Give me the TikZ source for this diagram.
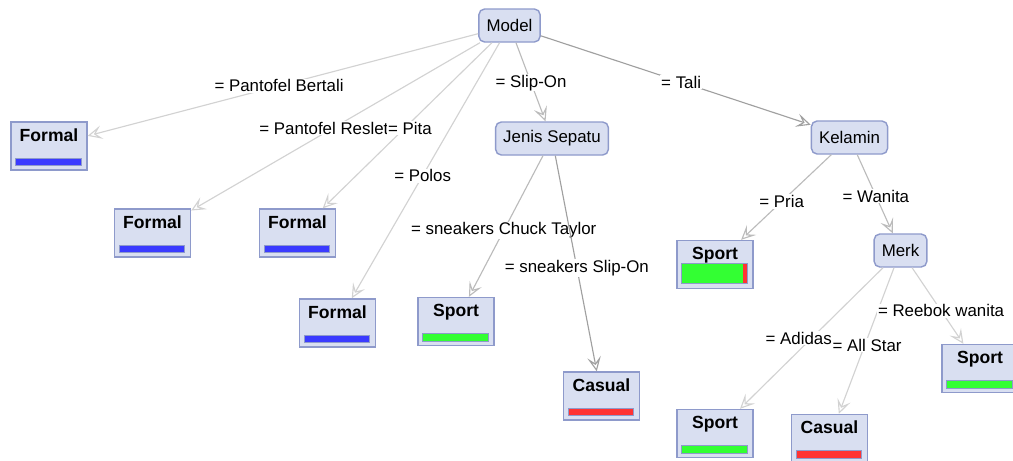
\documentclass[tikz,border=0pt]{standalone}
\usepackage{fontspec}
\setmainfont{Liberation Sans}
\usepackage{xcolor}
\usepackage{tikz}
\usetikzlibrary{
  arrows.meta,
  calc
}
\definecolor{wkFill}{HTML}{D9DFF1}
\definecolor{wkBorder}{HTML}{8E9ACB}
\definecolor{wkFormal}{HTML}{3A3AFF}
\definecolor{wkSport}{HTML}{33FF33}
\definecolor{wkCasual}{HTML}{FF3333}
\definecolor{wkEdgeLight}{HTML}{D2D2D2}
\definecolor{wkEdgeMid}{HTML}{BBBBBB}
\definecolor{wkEdgeDark}{HTML}{A0A0A0}
\tikzset{
  splitnode/.style={
    draw=wkBorder, fill=wkFill, rounded corners=4pt, line width=1pt,
    minimum height=8.25mm, inner xsep=1.9mm, font=\fontsize{12}{14}\selectfont
  },
  leaf/.style={
    draw=wkBorder, fill=wkFill, line width=1pt, minimum width=19mm,
    minimum height=12mm, inner ysep=1.67mm, text height=3.16mm, text depth=5.5mm,
    font=\bfseries\fontsize{12.5}{15}\selectfont
  },
  bar/.style={
    path picture={
      \draw[fill=#1, line width=0.7pt]
        ([xshift=1.2mm, yshift=1.1mm]path picture bounding box.south west)
        rectangle ([xshift=-1.4mm, yshift=2.9mm]path picture bounding box.south east);
    }
  },
  mixbar/.style={
    path picture={
      \fill[wkSport]
        ([xshift=1.2mm, yshift=1.25mm]path picture bounding box.south west)
        rectangle ([xshift=-1.4mm, yshift=6.2mm]path picture bounding box.south east);
      \fill[wkCasual]
        ([xshift=-2.6mm, yshift=1.25mm]path picture bounding box.south east)
        rectangle ([xshift=-1.4mm, yshift=6.2mm]path picture bounding box.south east);
      \draw[line width=0.7pt]
        ([xshift=1.2mm, yshift=1.25mm]path picture bounding box.south west)
        rectangle ([xshift=-1.4mm, yshift=6.2mm]path picture bounding box.south east);
    }
  },
  cond/.style={fill=white, inner sep=0.6pt, font=\fontsize{12}{14}\selectfont},
  branch/.style={
    -{Stealth[open, length=3.6mm, width=3.4mm, inset=1.6mm]}, line width=0.8pt, draw=#1
  },
  branch/.default=wkEdgeLight
}

\begin{document}
\begin{tikzpicture}[x=0.25mm, y=-0.25mm]
  \clip (0,0) rectangle (1013,460);
  \fill[white] (0,0) rectangle (1013,460);

  % split nodes
  \node[splitnode] (model) at (509.5,25.5) {Model};
  \node[splitnode] (jenis) at (552,138.5) {Jenis Sepatu};
  \node[splitnode] (kelamin) at (849.5,137.5) {Kelamin};
  \node[splitnode] (merk) at (900.5,250.5) {Merk};

  % leaves
  \node[leaf, bar=wkFormal] (formalA) at (49,146) {Formal};
  \node[leaf, bar=wkFormal] (formalB) at (152.5,233) {Formal};
  \node[leaf, bar=wkFormal] (formalC) at (297.5,233) {Formal};
  \node[leaf, bar=wkFormal] (formalD) at (337.5,323) {Formal};
  \node[leaf, bar=wkSport] (sportA) at (456,321.5) {Sport};
  \node[leaf, bar=wkCasual] (casualA) at (601.5,396) {Casual};
  \node[leaf, mixbar] (sportB) at (715,264.5) {Sport};
  \node[leaf, bar=wkSport] (sportC) at (715,433.5) {Sport};
  \node[leaf, bar=wkCasual] (casualB) at (829.5,438.5) {Casual};
  \node[leaf, bar=wkSport] (sportD) at (980,368.5) {Sport};

  % branches
  \draw[branch] (model) -- node[cond, pos=0.51] {= Pantofel Bertali} (formalA);
  \draw[branch] (model) -- node[cond, pos=0.51, xshift=-2.2mm] {= Pantofel Reslet} (formalB);
  \draw[branch] (model) -- node[cond, pos=0.515, xshift=1.3mm] {= Pita} (formalC);
  \draw[branch] (model) -- node[cond, pos=0.52] {= Polos} (formalD);
  \draw[branch=wkEdgeMid] (model) -- node[cond, pos=0.51] {= Slip-On} (jenis);
  \draw[branch=wkEdgeDark] (model) -- node[cond, pos=0.52] {= Tali} (kelamin);
  \draw[branch=wkEdgeMid] (jenis) -- node[cond, pos=0.53] {= sneakers Chuck Taylor} (sportA);
  \draw[branch=wkEdgeDark] (jenis) -- node[cond, pos=0.52] {= sneakers Slip-On} (casualA);
  \draw[branch=wkEdgeMid] (kelamin) -- node[cond, pos=0.55] {= Pria} (sportB);
  \draw[branch=wkEdgeMid] (kelamin) -- node[cond, pos=0.525] {= Wanita} (merk);
  \draw[branch] (merk) -- node[cond, pos=0.5, xshift=-3.2mm] {= Adidas} (sportC);
  \draw[branch] (merk) -- node[cond, pos=0.53, xshift=0.6mm] {= All Star} (casualB);
  \draw[branch] (merk) -- node[cond, pos=0.565] {= Reebok wanita} (sportD);
\end{tikzpicture}
\end{document}
